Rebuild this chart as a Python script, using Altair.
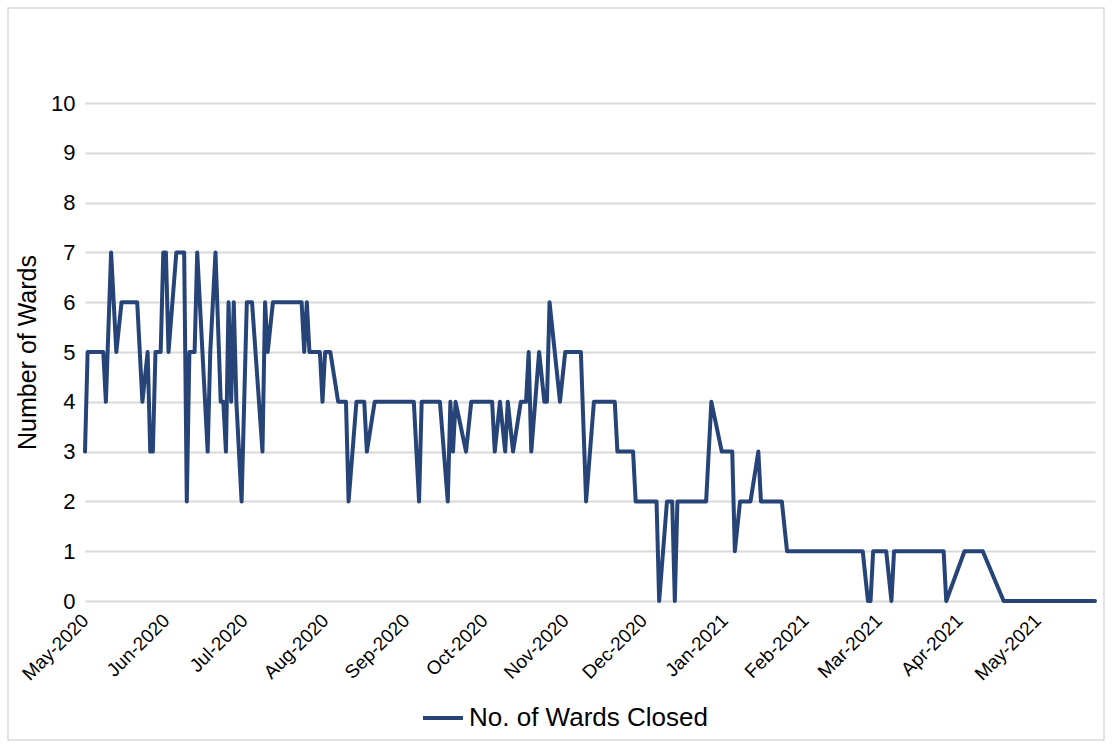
import altair as alt
import pandas as pd

# Daily count of closed wards: the days where the count changes
dates = [
    "2020-05-01", "2020-05-02", "2020-05-08", "2020-05-09", "2020-05-11", "2020-05-13",
    "2020-05-15", "2020-05-21", "2020-05-23", "2020-05-25", "2020-05-26", "2020-05-27",
    "2020-05-28", "2020-05-30", "2020-05-31", "2020-06-01", "2020-06-02", "2020-06-05",
    "2020-06-08", "2020-06-09", "2020-06-10", "2020-06-12", "2020-06-13", "2020-06-15",
    "2020-06-17", "2020-06-18", "2020-06-20", "2020-06-22", "2020-06-23", "2020-06-24",
    "2020-06-25", "2020-06-26", "2020-06-27", "2020-06-28", "2020-06-30", "2020-07-02",
    "2020-07-04", "2020-07-08", "2020-07-09", "2020-07-10", "2020-07-12", "2020-07-23",
    "2020-07-24", "2020-07-25", "2020-07-26", "2020-07-30", "2020-07-31", "2020-08-01",
    "2020-08-03", "2020-08-06", "2020-08-09", "2020-08-10", "2020-08-13", "2020-08-16",
    "2020-08-17", "2020-08-20", "2020-09-04", "2020-09-06", "2020-09-07", "2020-09-14",
    "2020-09-17", "2020-09-18", "2020-09-19", "2020-09-20", "2020-09-24", "2020-09-26",
    "2020-10-04", "2020-10-05", "2020-10-07", "2020-10-09", "2020-10-10", "2020-10-12",
    "2020-10-15", "2020-10-17", "2020-10-18", "2020-10-19", "2020-10-22", "2020-10-24",
    "2020-10-25", "2020-10-26", "2020-10-28", "2020-10-30", "2020-11-01", "2020-11-07",
    "2020-11-09", "2020-11-12", "2020-11-20", "2020-11-21", "2020-11-27", "2020-11-28",
    "2020-12-06", "2020-12-07", "2020-12-10", "2020-12-12", "2020-12-13", "2020-12-14",
    "2020-12-25", "2020-12-27", "2020-12-31", "2021-01-04", "2021-01-05", "2021-01-07",
    "2021-01-11", "2021-01-14", "2021-01-15", "2021-01-23", "2021-01-25", "2021-02-23",
    "2021-02-25", "2021-02-26", "2021-02-27", "2021-03-04", "2021-03-06", "2021-03-07",
    "2021-03-26", "2021-03-27", "2021-04-03", "2021-04-10", "2021-04-18", "2021-05-23",
]
wards_closed = [
    3, 5, 5, 4, 7, 5,
    6, 6, 4, 5, 3, 3,
    5, 5, 7, 7, 5, 7,
    7, 2, 5, 5, 7, 5,
    3, 5, 7, 4, 4, 3,
    6, 4, 6, 4, 2, 6,
    6, 3, 6, 5, 6, 6,
    5, 6, 5, 5, 4, 5,
    5, 4, 4, 2, 4, 4,
    3, 4, 4, 2, 4, 4,
    2, 4, 3, 4, 3, 4,
    4, 3, 4, 3, 4, 3,
    4, 4, 5, 3, 5, 4,
    4, 6, 5, 4, 5, 5,
    2, 4, 4, 3, 3, 2,
    2, 0, 2, 2, 0, 2,
    2, 4, 3, 3, 1, 2,
    2, 3, 2, 2, 1, 1,
    0, 0, 1, 1, 0, 1,
    1, 0, 1, 1, 0, 0,
]
series_name = "No. of Wards Closed"

month_ticks = [
    (2020, 5), (2020, 6), (2020, 7), (2020, 8), (2020, 9), (2020, 10), (2020, 11),
    (2020, 12), (2021, 1), (2021, 2), (2021, 3), (2021, 4), (2021, 5),
]
y_ticks = [0, 1, 2, 3, 4, 5, 6, 7, 8, 9, 10]

df = pd.DataFrame({
    "date": pd.to_datetime(dates),
    "wards": wards_closed,
    "series": series_name,
})

FONT = "Liberation Sans"
LINE_COLOR = "#264478"
GRID_COLOR = "#d9d9d9"

x_axis = alt.Axis(
    values=[alt.DateTime(year=y, month=m, date=1) for y, m in month_ticks],
    format="%b-%Y",
    labelAngle=-45,
    labelAlign="right",
    labelBaseline="middle",
    labelFont=FONT,
    labelFontSize=19,
    labelColor="#000000",
    labelPadding=16,
    labelOverlap=False,
    labelBound=False,
    labelFlush=False,
    grid=False,
    domain=False,
    ticks=False,
    title=None,
)

y_axis = alt.Axis(
    values=y_ticks,
    labelFont=FONT,
    labelFontSize=22,
    labelColor="#000000",
    labelPadding=10,
    grid=True,
    gridColor=GRID_COLOR,
    gridWidth=2,
    domain=False,
    ticks=False,
    title="Number of Wards",
    titleFont=FONT,
    titleFontSize=25,
    titleFontWeight="normal",
    titleColor="#000000",
    titleX=-45,
    titleY=249,
    titleAlign="center",
)

# light frame around the whole chart area
frame = (
    alt.Chart(pd.DataFrame({"frame": [0]}))
    .mark_rect(fill=None, stroke=GRID_COLOR, strokeWidth=1.5, clip=False)
    .encode(
        x=alt.value(-77),
        x2=alt.value(1019),
        y=alt.value(-95),
        y2=alt.value(637),
    )
)

line = (
    alt.Chart(df)
    .mark_line(strokeWidth=4, strokeJoin="round", strokeCap="round")
    .encode(
        x=alt.X(
            "date:T",
            scale=alt.Scale(
                domain=[
                    alt.DateTime(year=2020, month=5, date=1),
                    alt.DateTime(year=2021, month=5, date=23),
                ],
                nice=False,
            ),
            axis=x_axis,
        ),
        y=alt.Y("wards:Q", scale=alt.Scale(domain=[0, 10], nice=False), axis=y_axis),
        color=alt.Color(
            "series:N",
            scale=alt.Scale(range=[LINE_COLOR]),
            legend=alt.Legend(
                title=None,
                orient="none",
                legendX=336,
                legendY=593,
                symbolType="stroke",
                symbolSize=1600,
                symbolStrokeWidth=4,
                labelFont=FONT,
                labelFontSize=26,
                labelColor="#000000",
                labelOffset=4,
                labelLimit=0,
                padding=0,
            ),
        ),
    )
)

chart = (
    alt.layer(frame, line)
    .properties(
        width=1010,
        height=498,
        autosize=alt.AutoSizeParams(type="none"),
        padding={"left": 85, "top": 103, "right": 17, "bottom": 147},
        background="#ffffff",
    )
    .configure_view(stroke=None)
)

chart.save("out.html", embed_options={"renderer": "svg", "actions": False})
